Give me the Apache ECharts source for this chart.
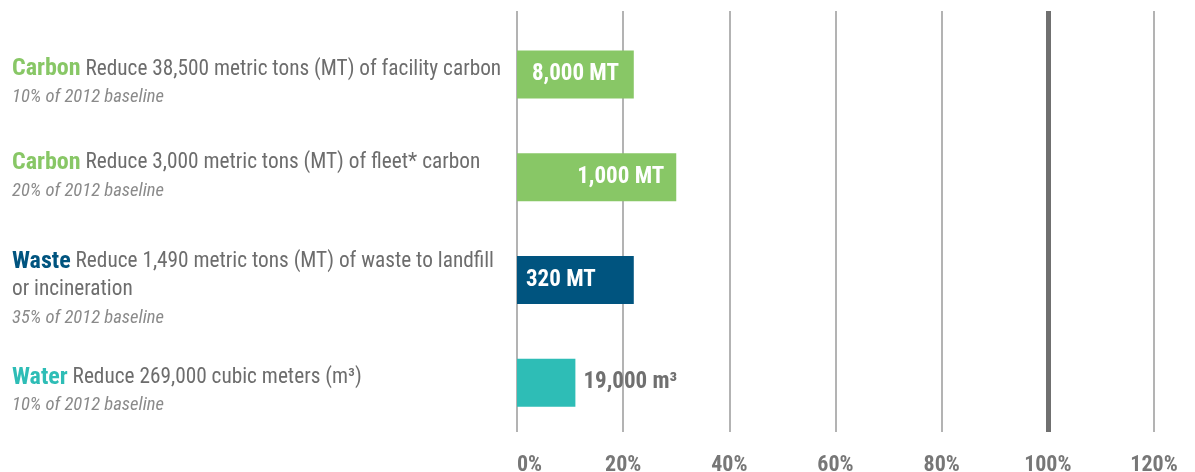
<!DOCTYPE html>
<html>
<head>
<meta charset="utf-8">
<script src="https://cdn.jsdelivr.net/npm/echarts@6/dist/echarts.min.js"></script>
<style>
html,body{margin:0;padding:0;background:#fff;}
#chart{width:1195px;height:472px;}
</style>
</head>
<body>
<div id="chart"></div>
<script>
// ---- data ----
var metricNames = ['Carbon', 'Carbon', 'Waste', 'Water'];
var descriptions = [
  ['Reduce 38,500 metric tons (MT) of facility carbon'],
  ['Reduce 3,000 metric tons (MT) of fleet* carbon'],
  ['Reduce 1,490 metric tons (MT) of waste to landfill', 'or incineration'],
  ['Reduce 269,000 cubic meters (m\u00B3)']
];
var baselines = ['10% of 2012 baseline', '20% of 2012 baseline', '35% of 2012 baseline', '10% of 2012 baseline'];
var progressPct = [22, 30, 22, 11];
var barLabels = ['8,000 MT', '1,000 MT', '320 MT', '19,000 m\u00B3'];
var tickLabels = ['0%', '20%', '40%', '60%', '80%', '100%', '120%'];

// ---- styles ----
var colors = ['#88c766', '#88c766', '#00547f', '#2ebdb6'];
var colorKeys = ['g', 'g', 'n', 't'];
var FONT = '"Roboto Condensed", "Liberation Sans Narrow", "DejaVu Sans Condensed", Roboto, sans-serif';
var labelPlacement = [
  {position: 'inside', distance: 0, color: '#ffffff'},
  {position: 'insideRight', distance: 12, color: '#ffffff'},
  {position: 'insideLeft', distance: 9, color: '#ffffff'},
  {position: 'right', distance: 8, color: '#707070'}
];
var textShift = [9, 0, 10, 9];

var cats = metricNames.map(function (n, i) {
  return {value: String(i), textStyle: {align: 'left', padding: [textShift[i] * 2, 0, 0, 0]}};
});

var barData = progressPct.map(function (v, i) {
  var p = labelPlacement[i];
  return {
    value: v,
    itemStyle: {color: colors[i]},
    label: {
      show: true,
      position: p.position,
      distance: p.distance,
      color: p.color,
      formatter: barLabels[i],
      fontFamily: FONT,
      fontWeight: 'bold',
      fontSize: 23
    }
  };
});

var chart = echarts.init(document.getElementById('chart'));
chart.setOption({
  animation: false,
  backgroundColor: '#ffffff',
  grid: [
    {left: 517, right: 41, top: 23, bottom: 38, containLabel: false, outerBoundsMode: 'none'},
    {left: 517, right: 41, top: 11, bottom: 40, containLabel: false, outerBoundsMode: 'none'}
  ],
  xAxis: [
    {gridIndex: 0, type: 'value', min: 0, max: 120, interval: 20, show: false},
    {
      gridIndex: 1, type: 'value', min: 0, max: 120, interval: 20,
      axisLine: {show: false}, axisTick: {show: false},
      splitLine: {show: true, lineStyle: {color: '#9a9a9a', width: 1.5}},
      axisLabel: {
        margin: 22,
        color: '#777777',
        fontFamily: FONT,
        fontWeight: 'bold',
        fontSize: 22,
        alignMinLabel: 'left',
        formatter: function (v) { return tickLabels[Math.round(v / 20)]; }
      }
    }
  ],
  yAxis: [
    {
      gridIndex: 0, type: 'category', data: cats, inverse: true,
      axisLine: {show: false}, axisTick: {show: false}, splitLine: {show: false},
      axisLabel: {
        align: 'left',
        margin: 505,
        formatter: function (v) {
          var i = Number(v);
          var d = descriptions[i];
          var s = '{' + colorKeys[i] + '|' + metricNames[i] + '}{d| ' + d[0] + '}';
          for (var k = 1; k < d.length; k++) s += '\n{d|' + d[k] + '}';
          s += '\n{s|' + baselines[i] + '}';
          return s;
        },
        rich: {
          g: {color: colors[0], fontFamily: FONT, fontWeight: 'bold', fontSize: 24, lineHeight: 28},
          n: {color: colors[2], fontFamily: FONT, fontWeight: 'bold', fontSize: 24, lineHeight: 28},
          t: {color: colors[3], fontFamily: FONT, fontWeight: 'bold', fontSize: 24, lineHeight: 28},
          d: {color: '#6d6d6d', fontFamily: FONT, fontSize: 21.3, lineHeight: 28},
          s: {color: '#8a8a8a', fontFamily: FONT, fontStyle: 'italic', fontSize: 18.6, lineHeight: 28}
        }
      }
    },
    {gridIndex: 1, type: 'value', min: 0, max: 1, show: false}
  ],
  series: [
    {
      type: 'bar', xAxisIndex: 0, yAxisIndex: 0,
      barWidth: 48,
      data: barData,
      z: 3
    },
    {
      type: 'line', xAxisIndex: 1, yAxisIndex: 1,
      data: [],
      markLine: {
        silent: true,
        symbol: 'none',
        label: {show: false},
        lineStyle: {color: '#707070', width: 5, type: 'solid'},
        data: [{xAxis: 100}]
      }
    }
  ]
});
</script>
</body>
</html>
